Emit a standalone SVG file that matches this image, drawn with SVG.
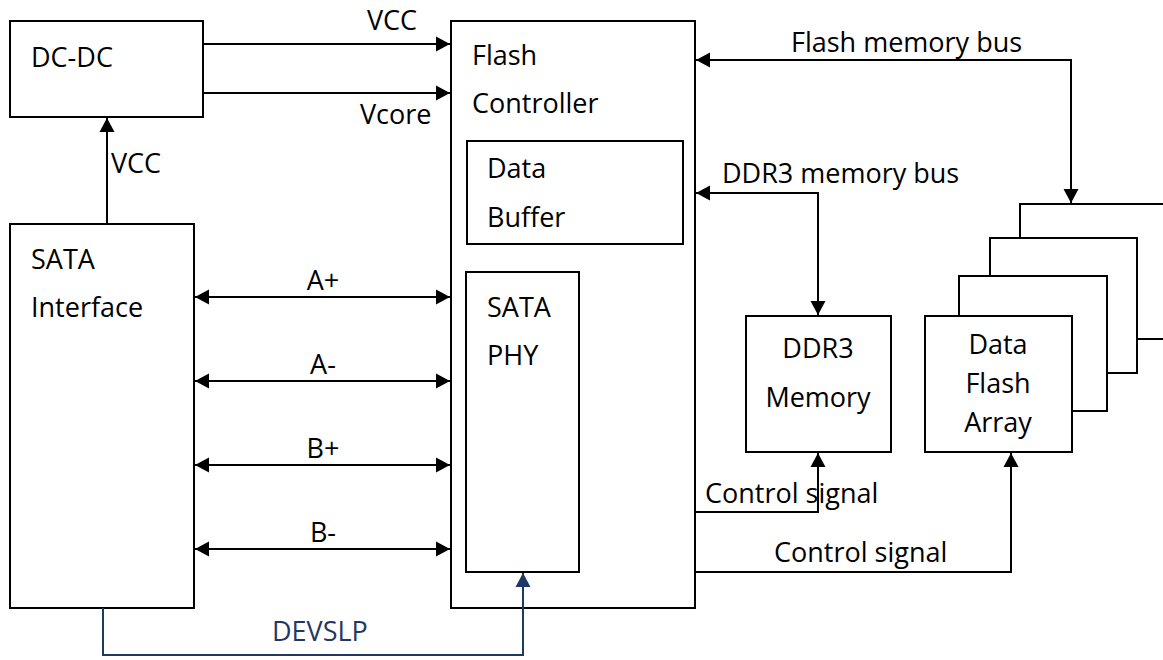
<svg xmlns="http://www.w3.org/2000/svg" width="1163" height="660" viewBox="0 0 1163 660">
<style>
.box{fill:#fff;stroke:#000;stroke-width:2}
.t{font-family:"Open Sans","Noto Sans","Liberation Sans",sans-serif;font-size:27px;fill:#000}
.c{text-anchor:middle}
.ln{fill:none;stroke:#000;stroke-width:2}
.nv{fill:none;stroke:#1f3864;stroke-width:2}
</style>
<defs>
<marker id="ah" markerUnits="userSpaceOnUse" markerWidth="15" markerHeight="16" refX="14" refY="8" orient="auto-start-reverse" viewBox="0 0 15 16">
<path d="M0,0.5 L14,8 L0,15.5 z" fill="#000"/>
</marker>
<marker id="ahn" markerUnits="userSpaceOnUse" markerWidth="15" markerHeight="16" refX="14" refY="8" orient="auto-start-reverse" viewBox="0 0 15 16">
<path d="M0,0.5 L14,8 L0,15.5 z" fill="#1f3864"/>
</marker>
</defs>
<rect width="1163" height="660" fill="#fff"/>

<g id="dcdc">
<rect class="box" x="10" y="21" width="193" height="96"/>
<text class="t" x="31" y="67">DC-DC</text>
</g>

<g id="sata-interface">
<rect class="box" x="10" y="224" width="184" height="384"/>
<text class="t" x="31" y="269">SATA</text>
<text class="t" x="31" y="317">Interface</text>
</g>

<g id="flash-controller">
<rect class="box" x="451" y="21" width="244" height="587"/>
<text class="t" x="472" y="65">Flash</text>
<text class="t" x="472" y="113">Controller</text>
</g>

<g id="data-buffer">
<rect class="box" x="467" y="141" width="216" height="103"/>
<text class="t" x="487" y="178">Data</text>
<text class="t" x="487" y="227">Buffer</text>
</g>

<g id="sata-phy">
<rect class="box" x="466" y="272" width="113" height="300"/>
<text class="t" x="487" y="317">SATA</text>
<text class="t" x="487" y="365">PHY</text>
</g>

<g id="ddr3-memory">
<rect class="box" x="746" y="316" width="145" height="136"/>
<text class="t c" x="818" y="358">DDR3</text>
<text class="t c" x="818" y="407">Memory</text>
</g>

<g id="flash-array-stack">
<rect class="box" x="1020" y="204" width="160" height="135"/>
<rect class="box" x="990" y="238" width="147" height="135"/>
<rect class="box" x="959" y="276" width="148" height="135"/>
</g>

<g id="data-flash-array">
<rect class="box" x="925" y="316" width="147" height="136"/>
<text class="t c" x="998" y="354">Data</text>
<text class="t c" x="998" y="393">Flash</text>
<text class="t c" x="998" y="432">Array</text>
</g>

<g id="connectors">
<path class="ln" d="M203,44 H450" marker-end="url(#ah)"/>
<path class="ln" d="M203,93 H450" marker-end="url(#ah)"/>
<path class="ln" d="M107,224 V118" marker-end="url(#ah)"/>
<path class="ln" d="M195,297 H450" marker-start="url(#ah)" marker-end="url(#ah)"/>
<path class="ln" d="M195,381 H450" marker-start="url(#ah)" marker-end="url(#ah)"/>
<path class="ln" d="M195,465 H450" marker-start="url(#ah)" marker-end="url(#ah)"/>
<path class="ln" d="M195,549 H450" marker-start="url(#ah)" marker-end="url(#ah)"/>
<path class="nv" d="M103,608 V655 H523 V573" marker-end="url(#ahn)"/>
<path class="ln" d="M696,60 H1071 V203" marker-start="url(#ah)" marker-end="url(#ah)"/>
<path class="ln" d="M696,193 H818 V315" marker-start="url(#ah)" marker-end="url(#ah)"/>
<path class="ln" d="M695,512 H818 V453" marker-end="url(#ah)"/>
<path class="ln" d="M695,572 H1011 V453" marker-end="url(#ah)"/>
</g>

<g id="labels">
<text class="t" x="367" y="30">VCC</text>
<text class="t" x="360" y="124">Vcore</text>
<text class="t" x="111" y="173">VCC</text>
<text class="t c" x="323" y="290">A+</text>
<text class="t c" x="323" y="374">A-</text>
<text class="t c" x="323" y="458">B+</text>
<text class="t c" x="323" y="542">B-</text>
<text class="t" x="272" y="641" style="fill:#1f3864">DEVSLP</text>
<text class="t" x="791" y="52">Flash memory bus</text>
<text class="t" x="722" y="183">DDR3 memory bus</text>
<text class="t" x="705" y="503">Control signal</text>
<text class="t" x="774" y="562">Control signal</text>
</g>
</svg>
